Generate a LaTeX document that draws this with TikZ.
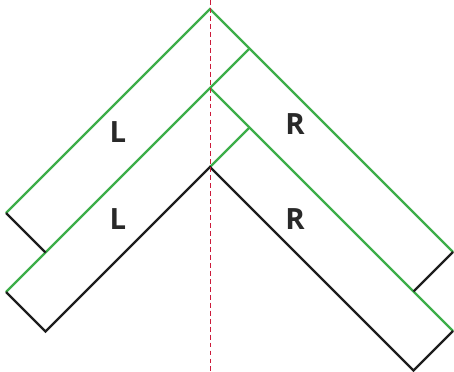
\documentclass[tikz,border=0pt]{standalone}
\usepackage{fontspec}
\setsansfont{Open Sans}
\usepackage{xcolor}
\usepackage{tikz}
\definecolor{boardgreen}{RGB}{61, 174, 73}
\definecolor{edgeblack}{RGB}{30, 30, 30}
\definecolor{axisred}{RGB}{204, 26, 58}

\begin{document}
\begin{tikzpicture}[
    x=0.03cm, y=-0.03cm,
    greenedge/.style={draw=boardgreen, line width=2.1pt, line join=miter},
    blackedge/.style={draw=edgeblack, line width=1.9pt, line join=miter},
    axis/.style={draw=axisred, line width=0.8pt, dash pattern=on 4.2pt off 2.6pt},
    side/.style={font=\fontsize{25}{30}\selectfont\sffamily\bfseries, text=edgeblack!95, inner sep=0pt}
]
    \useasboundingbox (0, 0) rectangle (454, 372);

    % Corners of the boards
    \coordinate (apexA) at (210, 9);
    \coordinate (apexB) at (210, 88);
    \coordinate (apexC) at (210, 167);
    \coordinate (cornerA) at (249.5, 48.5);
    \coordinate (cornerB) at (249.5, 127.5);
    \coordinate (leftA) at (6, 213);
    \coordinate (leftAb) at (45.5, 252.5);
    \coordinate (leftB) at (6, 292);
    \coordinate (leftBb) at (45.5, 331.5);
    \coordinate (rightA) at (453, 252);
    \coordinate (rightAb) at (413.5, 291.5);
    \coordinate (rightB) at (453, 331);
    \coordinate (rightBb) at (413.5, 370.5);

    % Green edges
    \draw[greenedge] (leftA) -- (apexA) -- (rightA);
    \draw[greenedge] (leftB) -- (cornerA);
    \draw[greenedge] (apexB) -- (rightB);
    \draw[greenedge] (apexC) -- (cornerB);

    % Black edges
    \draw[blackedge] (leftA) -- (leftAb);
    \draw[blackedge] (rightA) -- (rightAb);
    \draw[blackedge] (leftB) -- (leftBb) -- (apexC) -- (rightBb) -- (rightB);

    % Centre line
    \draw[axis] (210, 0) -- (210, 372);

    % Labels
    \node[side] (labelLA) at (118, 132) {L};
    \node[side] (labelRA) at (295, 124) {R};
    \node[side] (labelLB) at (118, 219) {L};
    \node[side] (labelRB) at (295, 219) {R};
\end{tikzpicture}
\end{document}
